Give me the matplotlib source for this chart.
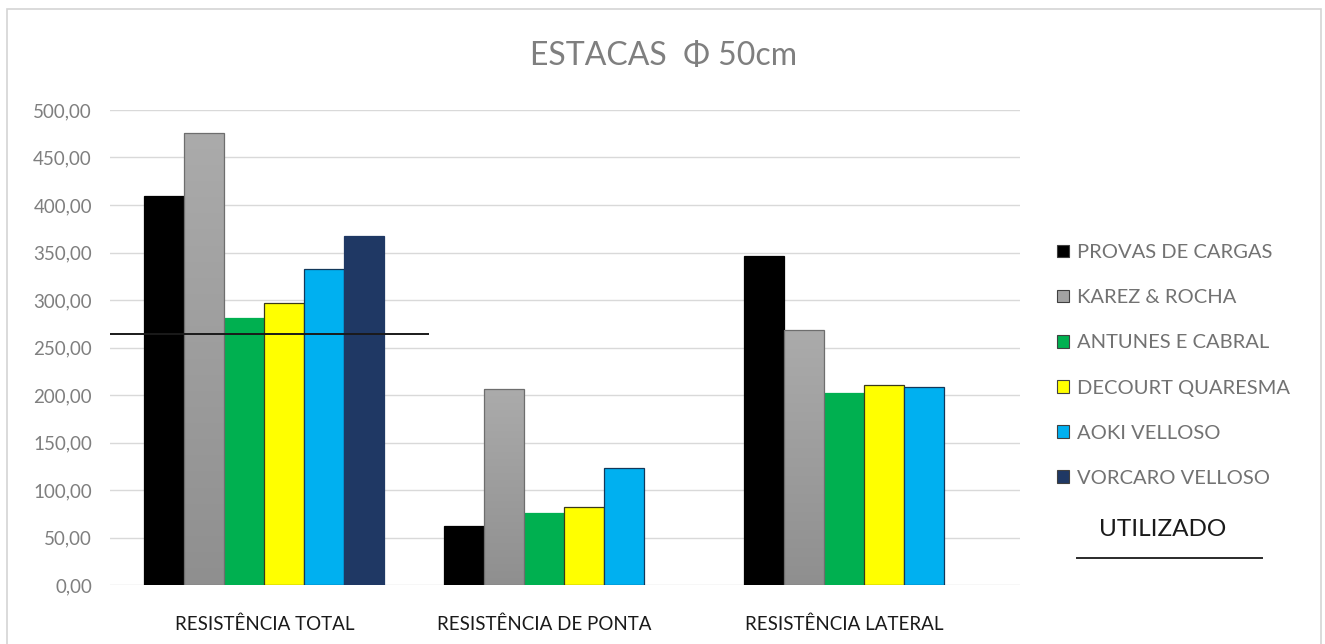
import numpy as np
import matplotlib.pyplot as plt
from matplotlib.patches import Rectangle
from matplotlib.lines import Line2D
from matplotlib.colors import LinearSegmentedColormap

plt.rcParams['font.family'] = ['Lato', 'DejaVu Sans']

categories = ['RESISTÊNCIA TOTAL', 'RESISTÊNCIA DE PONTA', 'RESISTÊNCIA LATERAL']
series = ['PROVAS DE CARGAS', 'KAREZ & ROCHA', 'ANTUNES E CABRAL',
          'DECOURT QUARESMA', 'AOKI VELLOSO', 'VORCARO VELLOSO']

provas = [410, 62, 346]
karez = [476, 206, 268]
antunes = [281, 76, 202]
decourt = [297, 82, 211]
aoki = [333, 123, 208]
vorcaro = [367, None, None]
values = [provas, karez, antunes, decourt, aoki, vorcaro]

utilizado = 264
yticks = np.arange(0, 501, 50)

colors = ['#000000', '#a3a3a3', '#00b050', '#ffff00', '#00b0f0', '#1f3864']
edges = ['#000000', '#6e6e6e', '#00b050', '#3a3a1a', '#12385a', '#1f3864']

fig = plt.figure(figsize=(13.25, 6.44), dpi=100)
ax = fig.add_axes([110 / 1325, 1 - 585 / 644, 910 / 1325, 475 / 644])

# outer frame of the chart area
fig.patches.append(Rectangle((7 / 1325, -0.05), 1314 / 1325, 1.05 - 9 / 644,
                             transform=fig.transFigure, fill=False,
                             edgecolor='#d4d4d4', lw=1.2, zorder=0))

w = 0.8 / len(series)
x = np.arange(len(categories))
gray_cmap = LinearSegmentedColormap.from_list('g', ['#8f8f8f', '#ababab'])

for i, (name, vals) in enumerate(zip(series, values)):
    xs = [x[j] + (i - 2.5) * w for j, v in enumerate(vals) if v is not None]
    hs = [v for v in vals if v is not None]
    bars = ax.bar(xs, hs, width=w, color=colors[i], edgecolor=edges[i],
                  linewidth=0.9, label=name, zorder=2)
    if i == 1:
        # vertical gradient fill on the gray bars
        for b in bars:
            x0, y0 = b.get_x(), b.get_y()
            grad = np.linspace(0, 1, 256).reshape(-1, 1)
            im = ax.imshow(grad, cmap=gray_cmap, origin='lower', aspect='auto',
                           extent=[x0, x0 + b.get_width(), y0, y0 + b.get_height()],
                           zorder=2.5)
            im.set_clip_path(b)
            b.set_facecolor('none')
            b.set_zorder(3)

# centre the category labels under the bars that exist
centers = []
for j in range(len(categories)):
    present = [(i - 2.5) * w for i, vals in enumerate(values) if vals[j] is not None]
    centers.append(x[j] + np.mean(present))

ax.hlines(utilizado, -0.515, 0.55, color='#1a1a1a', lw=1.4, zorder=5)

ax.set_xlim(-0.515, 2.52)
ax.set_ylim(0, 500)
ax.set_yticks(yticks)
ax.set_yticklabels([f'{v:.2f}'.replace('.', ',') for v in yticks])
ax.set_xticks(centers)
ax.set_xticklabels(categories)
ax.tick_params(axis='y', length=0, pad=13, labelsize=13.5, labelcolor='#7f7f7f')
ax.tick_params(axis='x', length=0, pad=22, labelsize=13.5, labelcolor='#1a1a1a')
ax.grid(axis='y', color='#d9d9d9', lw=1, zorder=0)
ax.set_axisbelow(True)
for s in ax.spines.values():
    s.set_visible(False)

fig.text(664 / 1325, 1 - 56 / 644, 'ESTACAS  Φ 50cm', ha='center', va='center',
         fontsize=23, color='#7f7f7f')

handles = [Rectangle((0, 0), 1, 1, facecolor=c, edgecolor='#404040', lw=0.8)
           for c in colors]
fig.legend(handles, series, loc='upper left',
           bbox_to_anchor=(1057 / 1325, 1 - 244 / 644), frameon=False,
           fontsize=14.5, labelcolor='#727272', handlelength=0.6,
           handleheight=0.6, handletextpad=0.4, labelspacing=1.40,
           borderpad=0, borderaxespad=0)

fig.text(1163 / 1325, 1 - 530 / 644, 'UTILIZADO', ha='center', va='center',
         fontsize=17.5, color='#1a1a1a')
fig.lines.append(Line2D([1077 / 1325, 1262 / 1325], [1 - 558 / 644] * 2,
                        transform=fig.transFigure, color='#2a2a2a', lw=1.4))

fig.savefig('out.png', dpi=100, facecolor='white')
